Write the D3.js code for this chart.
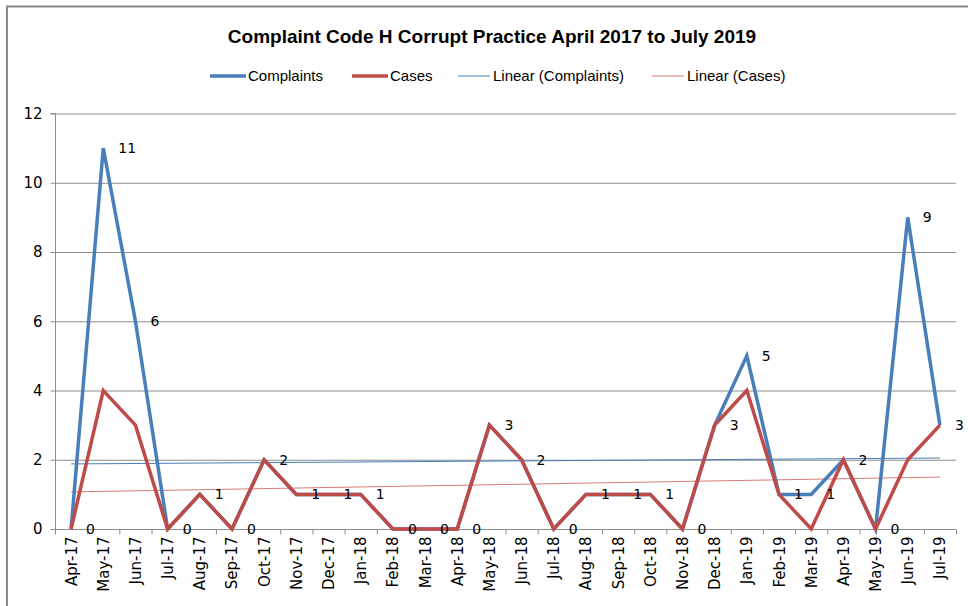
<!DOCTYPE html>
<html><head><meta charset="utf-8">
<script src="https://cdn.jsdelivr.net/npm/d3@7"></script>
<style>body{margin:0;background:#fff;}svg{display:block;}</style>
</head><body>
<svg id="c" width="968" height="606"></svg>
<script>
const months = ["Apr-17","May-17","Jun-17","Jul-17","Aug-17","Sep-17","Oct-17","Nov-17","Dec-17","Jan-18","Feb-18","Mar-18","Apr-18","May-18","Jun-18","Jul-18","Aug-18","Sep-18","Oct-18","Nov-18","Dec-18","Jan-19","Feb-19","Mar-19","Apr-19","May-19","Jun-19","Jul-19"];
const complaints = [0,11,6,0,1,0,2,1,1,1,0,0,0,3,2,0,1,1,1,0,3,5,1,1,2,0,9,3];
const cases = [0,4,3,0,1,0,2,1,1,1,0,0,0,3,2,0,1,1,1,0,3,4,1,0,2,0,2,3];
const yTicks = [0,2,4,6,8,10,12];
const title = "Complaint Code H Corrupt Practice April 2017 to July 2019";
const legendItems = [
  {name:"Complaints", color:"#4a7ebb", w:3.5},
  {name:"Cases", color:"#be4b48", w:3.5},
  {name:"Linear (Complaints)", color:"#4a7ebb", w:1},
  {name:"Linear (Cases)", color:"#d97a78", w:1}
];

const svg = d3.select("#c");
const L = 55, R = 956, T = 113.5, B = 529;

svg.append("rect").attr("x",7).attr("y",6.5).attr("width",1000).attr("height",700)
  .attr("fill","none").attr("stroke","#888").attr("stroke-width",2);

const x = d3.scaleBand().domain(months).range([L,R]);
const y = d3.scaleLinear().domain([0,12]).range([B,T]);
const cx = d => x(d) + x.bandwidth()/2;

// gridlines
svg.append("g").selectAll("line").data(yTicks.filter(t=>t>0)).join("line")
  .attr("x1",L).attr("x2",R).attr("y1",d=>y(d)+0.5).attr("y2",d=>y(d)+0.5)
  .attr("stroke","#8c8c8c").attr("stroke-width",1);

// y axis
const ya = svg.append("g").attr("transform",`translate(${L+0.5},0)`)
  .call(d3.axisLeft(y).tickValues(yTicks).tickSize(5).tickPadding(8).tickFormat(d3.format("d")));
ya.select(".domain").attr("stroke","#8c8c8c").attr("d",`M-5,${T}H0V${B}`);
ya.selectAll(".tick line").attr("stroke","#8c8c8c");
ya.selectAll(".tick text").attr("font-family","Verdana, 'DejaVu Sans', sans-serif").attr("font-size",15).attr("fill","#000");

// x axis
const xa = svg.append("g").attr("transform",`translate(0,${B+0.5})`);
xa.append("line").attr("x1",L).attr("x2",R).attr("stroke","#8c8c8c");
xa.selectAll("line.tk").data(d3.range(months.length+1)).join("line").attr("class","tk")
  .attr("x1",i=>L + i*x.step()+0.5).attr("x2",i=>L + i*x.step()+0.5).attr("y1",0).attr("y2",5)
  .attr("stroke","#8c8c8c");
xa.selectAll("text").data(months).join("text")
  .attr("transform",d=>`translate(${cx(d)+5.5},7) rotate(-90)`)
  .attr("text-anchor","end")
  .attr("font-family","Verdana, 'DejaVu Sans', sans-serif").attr("font-size",15).attr("fill","#000")
  .text(d=>d);

// trend lines
function trend(vals){
  const n = vals.length, xs = d3.range(n);
  const mx = d3.mean(xs), my = d3.mean(vals);
  const b = d3.sum(xs,(xi,i)=>(xi-mx)*(vals[i]-my))/d3.sum(xs,xi=>(xi-mx)**2);
  const a = my - b*mx;
  return [a, a + b*(n-1)];
}
const tc = trend(complaints), tk = trend(cases);
svg.append("line").attr("x1",cx(months[0])).attr("x2",cx(months[months.length-1]))
  .attr("y1",y(tc[0])).attr("y2",y(tc[1])).attr("stroke","#4a7ebb").attr("stroke-width",1);
svg.append("line").attr("x1",cx(months[0])).attr("x2",cx(months[months.length-1]))
  .attr("y1",y(tk[0])).attr("y2",y(tk[1])).attr("stroke","#d97a78").attr("stroke-width",1);

const line = d3.line().x((d,i)=>cx(months[i])).y(d=>y(d));
svg.append("path").datum(complaints).attr("d",line).attr("fill","none")
  .attr("stroke","#4a7ebb").attr("stroke-width",3.5).attr("stroke-linejoin","miter");
svg.append("path").datum(cases).attr("d",line).attr("fill","none")
  .attr("stroke","#be4b48").attr("stroke-width",3.5).attr("stroke-linejoin","miter");

// data labels (complaints)
svg.append("g").selectAll("text").data(complaints).join("text")
  .attr("x",(d,i)=>cx(months[i])+15).attr("y",d=>y(d)+5)
  .attr("font-family","Verdana, 'DejaVu Sans', sans-serif").attr("font-size",14).attr("fill","#000")
  .text(d=>d);

// title
svg.append("text").attr("x",492).attr("y",43).attr("text-anchor","middle")
  .attr("font-family","'Liberation Sans Narrow','Arial Narrow','Liberation Sans',sans-serif")
  .attr("font-weight","bold").attr("font-size",19).attr("fill","#000").text(title);

// legend
const lx = [210, 352, 458, 652];
const lg = svg.append("g");
legendItems.forEach((it,i)=>{
  lg.append("line").attr("x1",lx[i]).attr("x2",lx[i]+(it.w>2?36:32)).attr("y1",76).attr("y2",76)
    .attr("stroke",it.color).attr("stroke-width",it.w);
  lg.append("text").attr("x",lx[i]+(it.w>2?38:35)).attr("y",81)
    .attr("font-family","'Liberation Sans Narrow','Arial Narrow','Liberation Sans',sans-serif")
    .attr("font-size",15).attr("fill","#000").text(it.name);
});
</script>
</body></html>
